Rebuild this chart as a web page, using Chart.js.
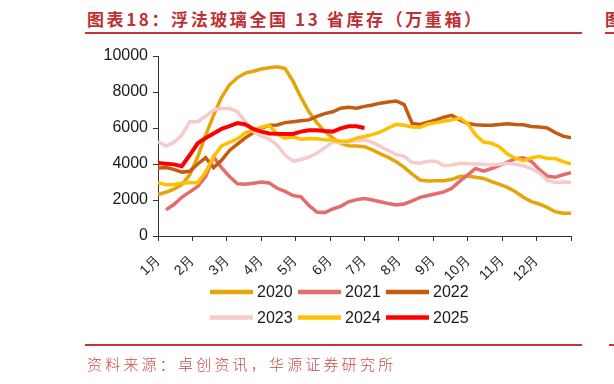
<!DOCTYPE html>
<html>
<head>
<meta charset="utf-8">
<script src="https://cdn.jsdelivr.net/npm/chart.js@4.4.1/dist/chart.umd.min.js"></script>
<style>
  html, body { margin: 0; padding: 0; background: #fff; }
  body { width: 614px; height: 384px; position: relative; overflow: hidden; }
  #c { position: absolute; left: 0; top: 0; }
  .title { position: absolute; left: 87px; top: 9px; font: bold 17px "Noto Sans CJK SC", sans-serif; letter-spacing: 2.6px; color: #BE3034; white-space: nowrap; line-height: 20px; }
  .title2 { position: absolute; left: 605px; top: 9px; font: bold 17px "Noto Sans CJK SC", sans-serif; color: #BE3034; white-space: nowrap; line-height: 20px; }
  .rule { position: absolute; height: 2px; background: #C0363A; }
  .source { position: absolute; left: 87px; top: 355px; font: 15px "Noto Sans CJK SC", sans-serif; font-weight: 300; letter-spacing: 3.2px; color: #C84A4A; white-space: nowrap; line-height: 18px; }
</style>
</head>
<body>
<div class="title">图表18：浮法玻璃全国 13 省库存（万重箱）</div>
<div class="title2">图</div>
<div class="rule" style="left:85px; top:32px; width:497px;"></div>
<div class="rule" style="left:605px; top:32px; width:9px;"></div>
<canvas id="c" width="614" height="384"></canvas>
<div class="rule" style="left:85px; top:344px; width:497px;"></div>
<div class="rule" style="left:609px; top:344px; width:5px;"></div>
<div class="source">资料来源：卓创资讯，华源证券研究所</div>
<script>
// week index 0..52 across the year
const weeks = Array.from({length: 53}, (_, i) => i);
const monthLabels = ['1月','2月','3月','4月','5月','6月','7月','8月','9月','10月','11月','12月',''];
const seriesNames = ['2020','2021','2022','2023','2024','2025'];
const seriesColors = ['#E5A50A','#E46C6C','#C55A11','#F8CBCB','#FFC000','#FF0000'];

const y2020 = [2300,2430,2600,2850,3400,4400,5600,6700,7700,8400,8800,9050,9150,9280,9350,9400,9300,8600,7700,6900,6300,5800,5450,5150,5020,5000,4960,4780,4560,4370,4130,3810,3440,3110,3060,3070,3070,3150,3300,3330,3260,3200,3020,2870,2700,2460,2150,1910,1780,1590,1350,1260,1260];
const y2021 = [null,1450,1750,2150,2450,2750,3300,4400,3800,3300,2900,2880,2930,3000,2950,2650,2480,2250,2180,1700,1330,1300,1500,1650,1900,2020,2080,2000,1900,1800,1730,1780,1950,2150,2250,2350,2450,2650,3050,3400,3750,3600,3750,3930,4100,4300,4350,4150,3700,3330,3260,3400,3520];
const y2022 = [3780,3800,3700,3550,3600,4000,4350,3800,4200,4750,5100,5450,5750,6000,6150,6170,6300,6350,6400,6450,6650,6800,6900,7100,7150,7100,7200,7280,7380,7450,7500,7300,6250,6200,6320,6450,6600,6700,6450,6250,6180,6150,6150,6200,6230,6200,6180,6080,6050,6000,5750,5550,5450];
const y2023 = [5250,5000,5200,5600,6350,6350,6650,7000,7080,7090,6900,6350,5800,5550,5380,5050,4500,4150,4250,4380,4600,4900,5230,5180,5230,5300,5330,5200,4980,4750,4520,4430,4080,4040,4150,4150,3900,3950,4040,4020,4000,3980,3950,3990,4040,3990,3900,3750,3500,3100,2970,3000,2980];
const y2024 = [2960,2850,2850,2950,2960,2960,3550,4400,5000,5200,5400,5730,5850,6050,6150,5650,5430,5500,5380,5420,5400,5350,5330,5270,5280,5430,5530,5630,5780,6000,6200,6150,6060,6040,6220,6300,6370,6450,6550,6250,5600,5220,5150,4950,4550,4320,4180,4340,4430,4310,4300,4130,4000];
const y2025 = [4050,4020,3980,3880,4500,5150,5450,5700,5950,6100,6270,6200,5950,5800,5700,5680,5670,5670,5800,5880,5870,5830,5800,5980,6100,6100,6000];

const yTicks = [0,2000,4000,6000,8000,10000];

const seriesData = [y2020, y2021, y2022, y2023, y2024, y2025];

const legendPlugin = {
  id: 'rowLegend',
  afterDraw(chart) {
    const ctx = chart.ctx;
    ctx.save();
    chart.data.datasets.forEach((ds, i) => {
      const row = Math.floor(i / 3), col = i % 3;
      const x0 = 210 + col * 88;
      const y = 292 + row * 25.5;
      ctx.strokeStyle = ds.borderColor;
      ctx.lineWidth = 4.5;
      ctx.lineCap = 'butt';
      ctx.beginPath();
      ctx.moveTo(x0, y);
      ctx.lineTo(x0 + 43, y);
      ctx.stroke();
      ctx.fillStyle = '#1a1a1a';
      ctx.font = '16px "Liberation Sans", Arial, sans-serif';
      ctx.textBaseline = 'middle';
      ctx.textAlign = 'left';
      ctx.fillText(ds.label, x0 + 47, y + 1);
    });
    ctx.restore();
  }
};

new Chart(document.getElementById('c'), {
  type: 'line',
  data: {
    labels: weeks,
    datasets: seriesNames.map((name, i) => ({
      label: name,
      data: seriesData[i],
      borderColor: seriesColors[i],
      backgroundColor: seriesColors[i],
      borderWidth: i === 5 ? 4 : 3.5,
      pointRadius: 0,
      tension: 0,
      fill: false,
      order: 5 - i,
      spanGaps: false
    }))
  },
  options: {
    responsive: false,
    animation: false,
    events: [],
    layout: { padding: { top: 56, right: 43, left: 0, bottom: 0 } },
    plugins: { legend: { display: false }, tooltip: { enabled: false }, title: { display: false } },
    scales: {
      x: {
        type: 'linear',
        min: 0,
        max: 52,
        afterBuildTicks: (axis) => { axis.ticks = monthLabels.map((_, k) => ({ value: k * 52 / 12 })); },
        afterFit: (axis) => { axis.height = 148; },
        border: { display: true, color: '#333', width: 1 },
        grid: { display: true, drawOnChartArea: false, drawTicks: true, tickLength: 5, tickColor: '#333' },
        ticks: {
          autoSkip: false,
          maxRotation: 45,
          minRotation: 45,
          padding: 11,
          color: '#1a1a1a',
          font: { family: '"Liberation Sans", Arial, sans-serif', size: 14 },
          callback: (v, idx) => monthLabels[idx]
        }
      },
      y: {
        min: 0,
        max: 10000,
        afterBuildTicks: (axis) => { axis.ticks = yTicks.map(v => ({ value: v })); },
        afterFit: (axis) => { axis.width = 158; },
        border: { display: true, color: '#333', width: 1 },
        grid: { display: true, drawOnChartArea: false, drawTicks: true, tickLength: 5, tickColor: '#333' },
        ticks: {
          padding: 5,
          color: '#1a1a1a',
          font: { family: '"Liberation Sans", Arial, sans-serif', size: 16 },
          callback: (v) => String(v)
        }
      }
    }
  },
  plugins: [legendPlugin]
});
</script>
</body>
</html>
